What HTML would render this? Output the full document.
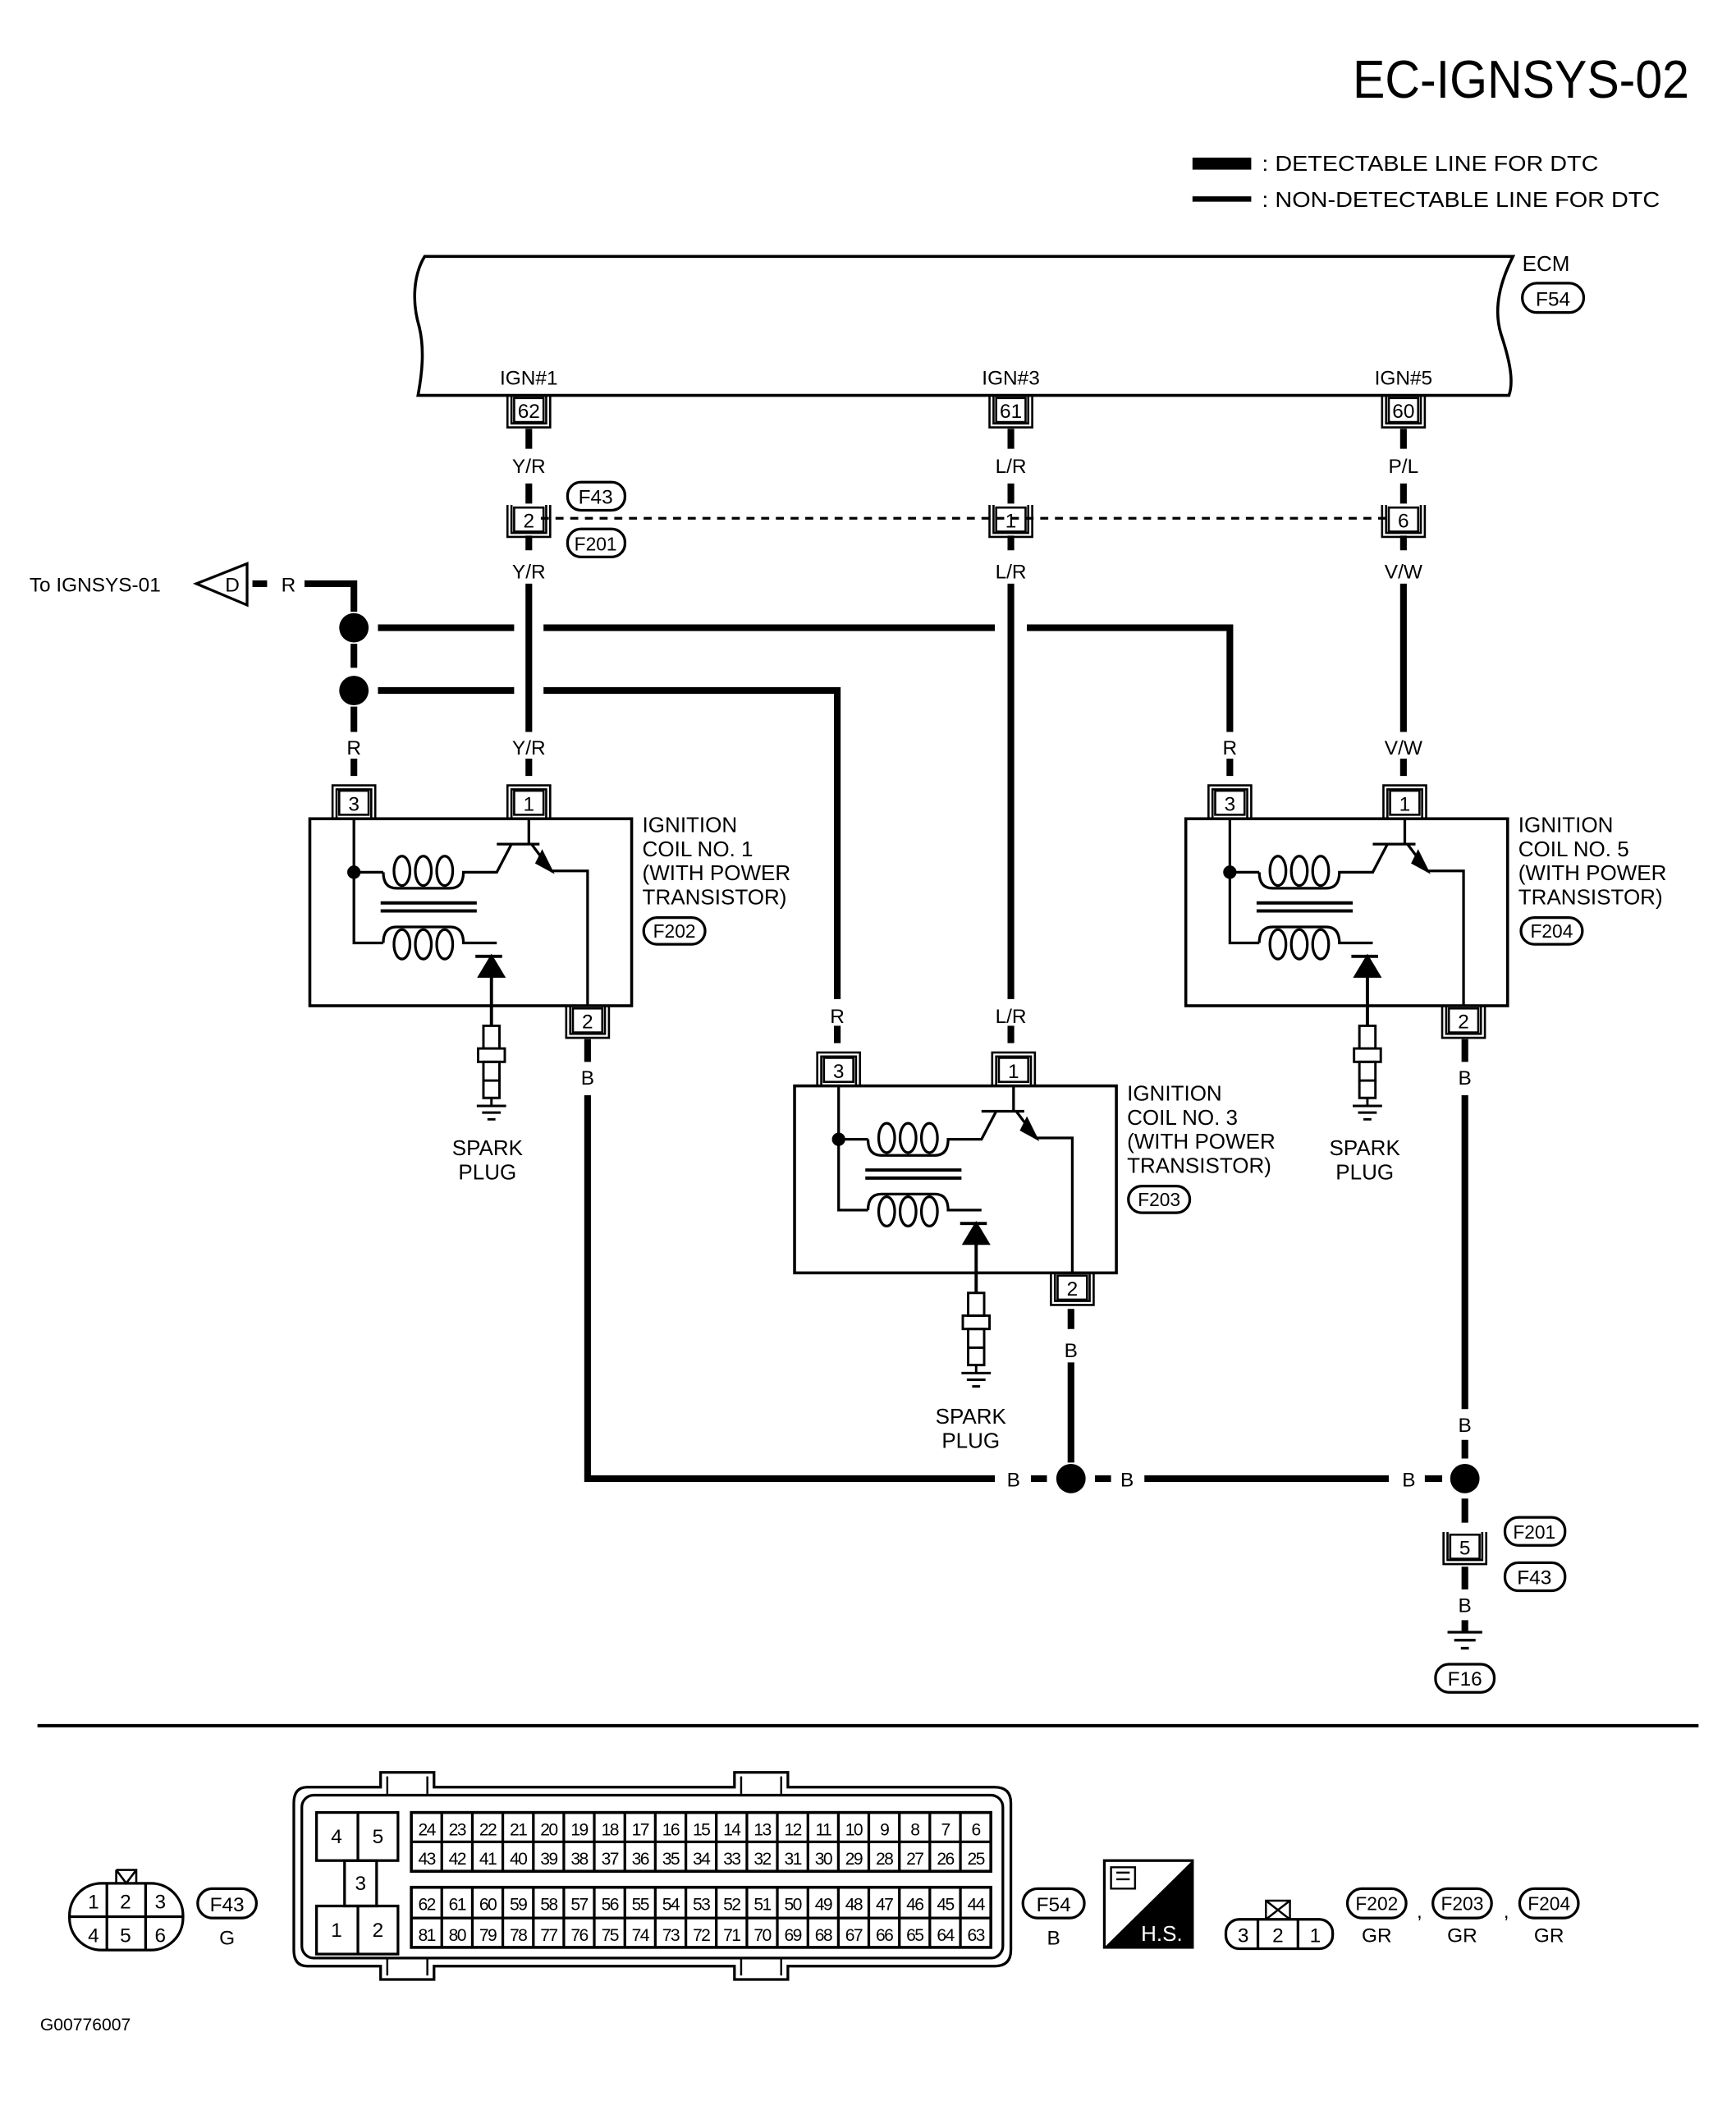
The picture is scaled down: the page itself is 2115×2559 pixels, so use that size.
<!DOCTYPE html>
<html><head><meta charset="utf-8"><style>
html,body{margin:0;padding:0;background:#fff;}
svg{display:block}
text{font-family:"Liberation Sans",sans-serif;fill:#000}
</style></head><body>
<svg width="2115" height="2559" viewBox="0 0 1300 1573" xmlns="http://www.w3.org/2000/svg">
<defs>
<g id="pinD" fill="none" stroke="#000">
<rect x="-11" y="-9" width="22" height="18" stroke-width="1.6"/>
<path d="M-16,-11V13H16V-11M-13,-11V10H13V-11" stroke-width="1.6"/>
</g>
<g id="pinU" fill="none" stroke="#000">
<rect x="-11" y="-9" width="22" height="18" stroke-width="1.6"/>
<path d="M-16,11V-13H16V11M-13,11V-10H13V11" stroke-width="1.6"/>
</g>
<g id="coil" fill="none" stroke="#000" stroke-width="2">
<rect x="232" y="613" width="241" height="140" stroke-width="2.2"/>
<path d="M265,613V706H287"/>
<circle cx="265" cy="653" r="4" fill="#000"/>
<path d="M265,653H287"/>
<path d="M287,653q0,12 10,12h40q10,0 10,-12H372L383,632"/>
<ellipse cx="301" cy="652" rx="6" ry="11"/><ellipse cx="317" cy="652" rx="6" ry="11"/><ellipse cx="333" cy="652" rx="6" ry="11"/>
<path d="M287,706q0,-12 10,-12h40q10,0 10,12H372"/>
<ellipse cx="301" cy="707" rx="6" ry="11"/><ellipse cx="317" cy="707" rx="6" ry="11"/><ellipse cx="333" cy="707" rx="6" ry="11"/>
<path d="M372,632H404M396,613V632M398,632l15,20H440V753"/>
<path d="M406,638l7,14l-11,-6z" fill="#000"/>
<path d="M285,676H357M285,682H357" stroke-width="2.4"/>
<path d="M356,716H376" stroke-width="2.4"/>
<path d="M359,731L368,716L377,731Z" fill="#000"/>
<path d="M368,731V768" stroke-width="2.4"/>
<rect x="362" y="768" width="12" height="17" stroke-width="1.8"/>
<rect x="358" y="785" width="20" height="10" stroke-width="1.8"/>
<rect x="362" y="795" width="12" height="14" stroke-width="1.8"/>
<path d="M362,809V822H374V809M368,822V828M357,828H379M361,833H375M365,838H371" stroke-width="1.8"/>
</g>
</defs>

<text x="1265" y="73" font-size="40" text-anchor="end" textLength="252" lengthAdjust="spacingAndGlyphs">EC-IGNSYS-02</text>
<rect x="893" y="118" width="44" height="9" fill="#000"/>
<text x="945" y="128" font-size="16" textLength="252" lengthAdjust="spacingAndGlyphs">: DETECTABLE LINE FOR DTC</text>
<rect x="893" y="147" width="44" height="4" fill="#000"/>
<text x="945" y="155" font-size="16" textLength="298" lengthAdjust="spacingAndGlyphs">: NON-DETECTABLE LINE FOR DTC</text>

<path d="M318,192H1133C1124,210 1118,230 1124,250C1130,268 1134,285 1130,296H313C316,280 318,262 314,245C308,225 310,205 318,192Z" fill="none" stroke="#000" stroke-width="2.2"/>
<text x="1140" y="203" font-size="16">ECM</text>
<rect x="1140" y="212" width="46" height="22" rx="11" fill="none" stroke="#000" stroke-width="2"/>
<text x="1163" y="229" font-size="15" text-anchor="middle">F54</text>
<text x="396" y="288" font-size="15" text-anchor="middle">IGN#1</text>
<text x="757" y="288" font-size="15" text-anchor="middle">IGN#3</text>
<text x="1051" y="288" font-size="15" text-anchor="middle">IGN#5</text>
<use href="#pinD" x="396" y="307"/><text x="396" y="313" font-size="15" text-anchor="middle">62</text>
<use href="#pinD" x="757" y="307"/><text x="757" y="313" font-size="15" text-anchor="middle">61</text>
<use href="#pinD" x="1051" y="307"/><text x="1051" y="313" font-size="15" text-anchor="middle">60</text>

<g stroke="#000" stroke-width="5" fill="none">
<path d="M396,321V336M396,362V377M396,401V412M396,437V548M396,568V581"/>
<path d="M757,321V336M757,362V377M757,401V412M757,437V748M757,768V781"/>
<path d="M1051,321V336M1051,362V377M1051,401V412M1051,437V548M1051,568V581"/>
<path d="M228,437H265V458M265,482V500M265,529V548M265,568V581"/>
<path d="M283,470H385M407,470H745M769,470H921V548M921,568V581"/>
<path d="M283,517H385M407,517H627V748M627,768V781"/>
<path d="M440,778V795M440,820V1107H745M772,1107H784"/>
<path d="M802,980V995M802,1020V1095M820,1107H832M857,1107H1040M1067,1107H1080"/>
<path d="M1097,778V795M1097,820V1055M1097,1078V1092M1097,1122V1140M1097,1173V1190M1097,1213V1222"/>
<path d="M189,437H200"/>
</g>
<path d="M405,388H1040" stroke="#000" stroke-width="2" stroke-dasharray="6,5"/>
<g fill="#000"><circle cx="265" cy="470" r="11"/><circle cx="265" cy="517" r="11"/><circle cx="802" cy="1107" r="11"/><circle cx="1097" cy="1107" r="11"/></g>

<g font-size="15" text-anchor="middle">
<text x="396" y="354">Y/R</text><text x="757" y="354">L/R</text><text x="1051" y="354">P/L</text>
<text x="396" y="433">Y/R</text><text x="757" y="433">L/R</text><text x="1051" y="433">V/W</text>
<text x="396" y="565">Y/R</text><text x="265" y="565">R</text><text x="921" y="565">R</text><text x="1051" y="565">V/W</text>
<text x="627" y="766">R</text><text x="757" y="766">L/R</text>
<text x="440" y="812">B</text><text x="1097" y="812">B</text><text x="802" y="1016">B</text>
<text x="759" y="1113">B</text><text x="844" y="1113">B</text><text x="1055" y="1113">B</text><text x="1097" y="1072">B</text>
<text x="1097" y="1207">B</text><text x="216" y="443">R</text>
</g>
<use href="#pinD" x="396" y="389"/><text x="396" y="395" font-size="15" text-anchor="middle">2</text>
<use href="#pinD" x="757" y="389"/><text x="757" y="395" font-size="15" text-anchor="middle">1</text>
<use href="#pinD" x="1051" y="389"/><text x="1051" y="395" font-size="15" text-anchor="middle">6</text>
<g fill="none" stroke="#000" stroke-width="2"><rect x="425" y="361" width="43" height="21" rx="10"/><rect x="425" y="396" width="43" height="21" rx="10"/></g>
<text x="446" y="377" font-size="15" text-anchor="middle">F43</text><text x="446" y="412" font-size="14" text-anchor="middle">F201</text>

<text x="22" y="443" font-size="15">To IGNSYS-01</text>
<path d="M147,437L185,422V453Z" fill="none" stroke="#000" stroke-width="2"/>
<text x="174" y="443" font-size="15" text-anchor="middle">D</text>

<use href="#coil"/>
<use href="#coil" x="363" y="200"/>
<use href="#coil" x="656" y="0"/>
<use href="#pinU" x="265" y="601"/><text x="265" y="607" font-size="15" text-anchor="middle">3</text>
<use href="#pinU" x="396" y="601"/><text x="396" y="607" font-size="15" text-anchor="middle">1</text>
<use href="#pinD" x="440" y="764"/><text x="440" y="770" font-size="15" text-anchor="middle">2</text>
<use href="#pinU" x="628" y="801"/><text x="628" y="807" font-size="15" text-anchor="middle">3</text>
<use href="#pinU" x="759" y="801"/><text x="759" y="807" font-size="15" text-anchor="middle">1</text>
<use href="#pinD" x="803" y="964"/><text x="803" y="970" font-size="15" text-anchor="middle">2</text>
<use href="#pinU" x="921" y="601"/><text x="921" y="607" font-size="15" text-anchor="middle">3</text>
<use href="#pinU" x="1052" y="601"/><text x="1052" y="607" font-size="15" text-anchor="middle">1</text>
<use href="#pinD" x="1096" y="764"/><text x="1096" y="770" font-size="15" text-anchor="middle">2</text>

<g font-size="16">
<text x="481" y="623">IGNITION</text><text x="481" y="641">COIL NO. 1</text><text x="481" y="659">(WITH POWER</text><text x="481" y="677">TRANSISTOR)</text>
<text x="844" y="824">IGNITION</text><text x="844" y="842">COIL NO. 3</text><text x="844" y="860">(WITH POWER</text><text x="844" y="878">TRANSISTOR)</text>
<text x="1137" y="623">IGNITION</text><text x="1137" y="641">COIL NO. 5</text><text x="1137" y="659">(WITH POWER</text><text x="1137" y="677">TRANSISTOR)</text>
</g>
<g fill="none" stroke="#000" stroke-width="2">
<rect x="482" y="687" width="46" height="20" rx="10"/><rect x="845" y="888" width="46" height="20" rx="10"/><rect x="1139" y="687" width="46" height="20" rx="10"/>
</g>
<g font-size="14" text-anchor="middle"><text x="505" y="702">F202</text><text x="868" y="903">F203</text><text x="1162" y="702">F204</text></g>
<g font-size="16" text-anchor="middle">
<text x="365" y="865">SPARK</text><text x="365" y="883">PLUG</text>
<text x="727" y="1066">SPARK</text><text x="727" y="1084">PLUG</text>
<text x="1022" y="865">SPARK</text><text x="1022" y="883">PLUG</text>
</g>

<use href="#pinD" x="1097" y="1158"/><text x="1097" y="1164" font-size="15" text-anchor="middle">5</text>
<g fill="none" stroke="#000" stroke-width="2">
<rect x="1127" y="1136" width="45" height="21" rx="10"/><rect x="1127" y="1170" width="45" height="21" rx="10"/>
<rect x="1075" y="1246" width="44" height="21" rx="10"/>
<path d="M1084,1222H1110M1089,1228H1105M1094,1234H1100"/>
</g>
<text x="1149" y="1152" font-size="14" text-anchor="middle">F201</text>
<text x="1149" y="1186" font-size="15" text-anchor="middle">F43</text>
<text x="1097" y="1262" font-size="15" text-anchor="middle">F16</text>

<path d="M28,1292H1272" stroke="#000" stroke-width="2.5"/>

<g fill="none" stroke="#000" stroke-width="2">
<rect x="52" y="1410" width="85" height="50" rx="24"/>
<path d="M52,1435H137M80,1410V1460M109,1410V1460"/>
<path d="M87,1400H102V1410M87,1400V1410M87,1400L94.5,1410L102,1400" stroke-width="1.6"/>
<rect x="148" y="1414" width="44" height="22" rx="11"/>
</g>
<g font-size="15" text-anchor="middle">
<text x="70" y="1429">1</text><text x="94" y="1429">2</text><text x="120" y="1429">3</text>
<text x="70" y="1454">4</text><text x="94" y="1454">5</text><text x="120" y="1454">6</text>
<text x="170" y="1431">F43</text><text x="170" y="1456">G</text>
</g>

<g fill="none" stroke="#000" stroke-width="2">
<path d="M230,1338H285V1327H325V1338H550V1327H590V1338H745Q757,1338 757,1350V1460Q757,1472 745,1472H590V1482H550V1472H325V1482H285V1472H230Q220,1472 220,1460V1350Q220,1338 230,1338Z"/>
<rect x="226" y="1344" width="525" height="122" rx="9"/>
<path d="M290,1330V1343M320,1330V1343M555,1330V1343M585,1330V1343M290,1467V1479M320,1467V1479M555,1467V1479M585,1467V1479" stroke-width="1.5"/>
<rect x="237" y="1357" width="61" height="36"/><path d="M268,1357V1393"/>
<rect x="258" y="1393" width="24" height="34"/>
<rect x="237" y="1427" width="61" height="36"/><path d="M268,1427V1463"/>
<rect x="308" y="1357" width="434" height="44" stroke-width="2.2"/>
<rect x="308" y="1413" width="434" height="45" stroke-width="2.2"/>
<path d="M308,1379H742M308,1436H742"/>
<path d="M330.8,1357V1401M353.7,1357V1401M376.5,1357V1401M399.4,1357V1401M422.2,1357V1401M445,1357V1401M467.9,1357V1401M490.7,1357V1401M513.6,1357V1401M536.4,1357V1401M559.3,1357V1401M582.1,1357V1401M605,1357V1401M627.8,1357V1401M650.6,1357V1401M673.5,1357V1401M696.3,1357V1401M719.2,1357V1401"/>
<path d="M330.8,1413V1458M353.7,1413V1458M376.5,1413V1458M399.4,1413V1458M422.2,1413V1458M445,1413V1458M467.9,1413V1458M490.7,1413V1458M513.6,1413V1458M536.4,1413V1458M559.3,1413V1458M582.1,1413V1458M605,1413V1458M627.8,1413V1458M650.6,1413V1458M673.5,1413V1458M696.3,1413V1458M719.2,1413V1458"/>
</g>
<g font-size="15" text-anchor="middle">
<text x="252" y="1380">4</text><text x="283" y="1380">5</text><text x="270" y="1415">3</text>
<text x="252" y="1450">1</text><text x="283" y="1450">2</text>
</g>
<g font-size="13" text-anchor="middle" letter-spacing="-1">
<text y="1374"><tspan x="319.4">24</tspan><tspan x="342.2">23</tspan><tspan x="365.1">22</tspan><tspan x="387.9">21</tspan><tspan x="410.8">20</tspan><tspan x="433.6">19</tspan><tspan x="456.5">18</tspan><tspan x="479.3">17</tspan><tspan x="502.1">16</tspan><tspan x="525">15</tspan><tspan x="547.8">14</tspan><tspan x="570.7">13</tspan><tspan x="593.5">12</tspan><tspan x="616.4">11</tspan><tspan x="639.2">10</tspan><tspan x="662.1">9</tspan><tspan x="684.9">8</tspan><tspan x="707.8">7</tspan><tspan x="730.6">6</tspan></text>
<text y="1396"><tspan x="319.4">43</tspan><tspan x="342.2">42</tspan><tspan x="365.1">41</tspan><tspan x="387.9">40</tspan><tspan x="410.8">39</tspan><tspan x="433.6">38</tspan><tspan x="456.5">37</tspan><tspan x="479.3">36</tspan><tspan x="502.1">35</tspan><tspan x="525">34</tspan><tspan x="547.8">33</tspan><tspan x="570.7">32</tspan><tspan x="593.5">31</tspan><tspan x="616.4">30</tspan><tspan x="639.2">29</tspan><tspan x="662.1">28</tspan><tspan x="684.9">27</tspan><tspan x="707.8">26</tspan><tspan x="730.6">25</tspan></text>
<text y="1430"><tspan x="319.4">62</tspan><tspan x="342.2">61</tspan><tspan x="365.1">60</tspan><tspan x="387.9">59</tspan><tspan x="410.8">58</tspan><tspan x="433.6">57</tspan><tspan x="456.5">56</tspan><tspan x="479.3">55</tspan><tspan x="502.1">54</tspan><tspan x="525">53</tspan><tspan x="547.8">52</tspan><tspan x="570.7">51</tspan><tspan x="593.5">50</tspan><tspan x="616.4">49</tspan><tspan x="639.2">48</tspan><tspan x="662.1">47</tspan><tspan x="684.9">46</tspan><tspan x="707.8">45</tspan><tspan x="730.6">44</tspan></text>
<text y="1453"><tspan x="319.4">81</tspan><tspan x="342.2">80</tspan><tspan x="365.1">79</tspan><tspan x="387.9">78</tspan><tspan x="410.8">77</tspan><tspan x="433.6">76</tspan><tspan x="456.5">75</tspan><tspan x="479.3">74</tspan><tspan x="502.1">73</tspan><tspan x="525">72</tspan><tspan x="547.8">71</tspan><tspan x="570.7">70</tspan><tspan x="593.5">69</tspan><tspan x="616.4">68</tspan><tspan x="639.2">67</tspan><tspan x="662.1">66</tspan><tspan x="684.9">65</tspan><tspan x="707.8">64</tspan><tspan x="730.6">63</tspan></text>
</g>
<rect x="766" y="1414" width="46" height="22" rx="11" fill="none" stroke="#000" stroke-width="2"/>
<text x="789" y="1431" font-size="15" text-anchor="middle">F54</text>
<text x="789" y="1456" font-size="15" text-anchor="middle">B</text>

<rect x="827" y="1393" width="66" height="65" fill="#fff" stroke="#000" stroke-width="2"/>
<path d="M893,1393V1458H827Z" fill="#000"/>
<text x="870" y="1453" font-size="16" text-anchor="middle" style="fill:#fff">H.S.</text>
<path d="M832,1398h18v16h-18zM836,1402h10M836,1407h10" fill="none" stroke="#000" stroke-width="1.5"/>

<g fill="none" stroke="#000" stroke-width="2">
<rect x="918" y="1437" width="80" height="22" rx="10"/>
<path d="M942,1437V1459M972,1437V1459"/>
<path d="M948,1423H966V1437H948ZM948,1423L966,1437M966,1423L948,1437" stroke-width="1.5"/>
<rect x="1009" y="1414" width="44" height="22" rx="11"/><rect x="1073" y="1414" width="44" height="22" rx="11"/><rect x="1138" y="1414" width="44" height="22" rx="11"/>
</g>
<g font-size="15" text-anchor="middle">
<text x="931" y="1454">3</text><text x="957" y="1454">2</text><text x="985" y="1454">1</text>
<text x="1031" y="1430" font-size="14">F202</text><text x="1095" y="1430" font-size="14">F203</text><text x="1160" y="1430" font-size="14">F204</text>
<text x="1031" y="1454">GR</text><text x="1095" y="1454">GR</text><text x="1160" y="1454">GR</text>
<text x="1063" y="1436">,</text><text x="1128" y="1436">,</text>
</g>
<text x="30" y="1520" font-size="13">G00776007</text>
</svg>
</body></html>
